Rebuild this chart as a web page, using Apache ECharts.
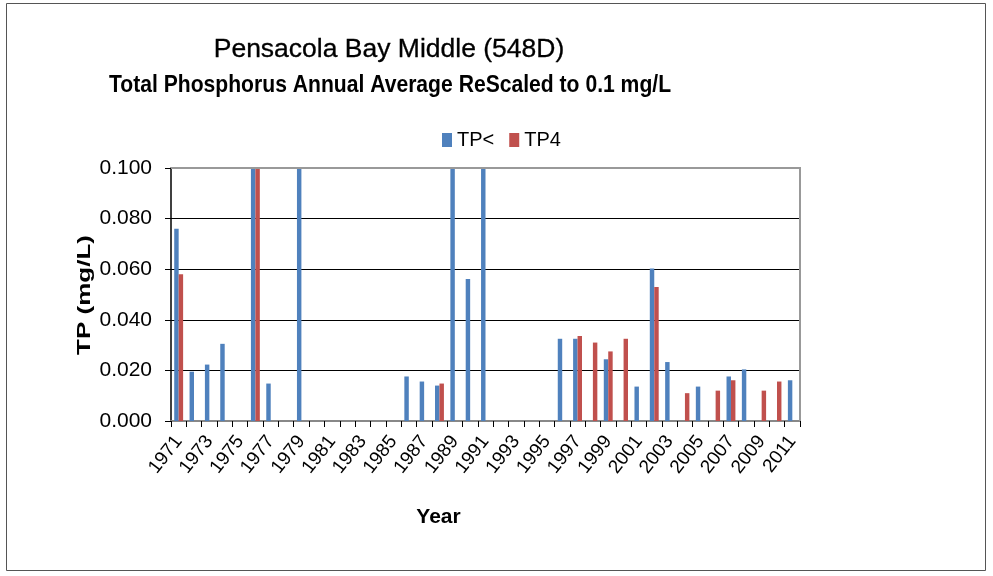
<!DOCTYPE html>
<html><head><meta charset="utf-8">
<script src="https://cdn.jsdelivr.net/npm/echarts@6/dist/echarts.min.js"></script>
<style>html,body{margin:0;padding:0;background:#fff}#c{width:993px;height:576px}</style>
</head><body><div id="c"></div>
<script>
const years = [];
for (let y = 1971; y <= 2011; y++) years.push(String(y));
// values (capped at 0.1 by the rescaled axis)
const tpLess = [0.076,0.0195,0.0223,0.0305,null,0.1,0.0148,null,0.1,null,
  null,null,null,null,null,0.0176,0.0156,0.014,0.1,0.0561,
  0.1,null,null,null,null,0.0325,0.0325,null,0.0244,null,
  0.0136,0.0603,0.0233,null,0.0136,null,0.0176,0.0204,null,null,0.0161];
const tp4 = [0.058,null,null,null,null,0.1,null,null,null,null,
  null,null,null,null,null,null,null,0.0148,null,null,
  null,null,null,null,null,null,0.0336,0.031,0.0275,0.0325,
  null,0.053,null,0.011,null,0.012,0.0161,null,0.012,0.0156,null];
const titleText = 'Pensacola Bay Middle (548D)';
const subtitleText = 'Total Phosphorus Annual Average ReScaled to 0.1 mg/L';
const yName = 'TP (mg/L)';

const chart = echarts.init(document.getElementById('c'));
const F = '"Liberation Sans",Arial,sans-serif';
chart.setOption({
  backgroundColor: '#fff',
  animation: false,
  legend: {
    top: 125, left: 437, itemWidth: 10, itemHeight: 14, itemGap: 15,
    icon: 'rect',
    textStyle: {fontFamily: F, fontSize: 20, color: '#000'},
    data: ['TP<', 'TP4']
  },
  graphic: [
    {type: 'rect', shape: {x: 6.5, y: 3.5, width: 979, height: 567},
     style: {fill: 'none', stroke: '#555', lineWidth: 1}, silent: true},
    {type: 'polyline', shape: {points: [[171,168],[800,168],[800,421]]},
     style: {stroke: '#999', lineWidth: 2, fill: 'none'}, silent: true, z: 10},
    {type: 'text', x: 389, y: 50, scaleX: 1.06, silent: true,
     style: {text: titleText, x: 0, y: 0, align: 'center', verticalAlign: 'middle',
       font: 'normal 25px ' + F, fill: '#000', stroke: '#000', lineWidth: 0.3}},
    {type: 'text', x: 390, y: 85, scaleX: 0.88, silent: true,
     style: {text: subtitleText, x: 0, y: 0, align: 'center', verticalAlign: 'middle',
       font: 'bold 24px ' + F, fill: '#000'}},
    {type: 'text', x: 85, y: 295, rotation: Math.PI / 2, scaleY: 0.68, silent: true,
     style: {text: yName, x: 0, y: 0, align: 'center', verticalAlign: 'middle',
       font: 'bold 26px ' + F, fill: '#000'}}
  ],
  grid: {left: 171, right: 193, top: 168, bottom: 155},
  xAxis: {
    type: 'category', data: years,
    name: 'Year', nameLocation: 'middle', nameGap: 86,
    nameTextStyle: {fontFamily: F, fontSize: 21, fontWeight: 'bold', color: '#000',
      padding: [0, 94, 0, 0]},
    axisLine: {lineStyle: {color: '#888', width: 2}},
    axisTick: {show: true, alignWithLabel: false, interval: 0, length: 6, lineStyle: {color: '#000'}},
    axisLabel: {interval: 1, rotate: 52, fontFamily: F, fontSize: 19, color: '#000', margin: 17}
  },
  yAxis: {
    type: 'value', min: 0, max: 0.1, interval: 0.02,
    axisLine: {show: true, lineStyle: {color: '#000', width: 1.5}},
    axisTick: {show: true, length: 6, lineStyle: {color: '#000'}},
    axisLabel: {fontFamily: F, fontSize: 21, color: '#000', margin: 19,
      formatter: v => v.toFixed(3)},
    splitLine: {show: true, lineStyle: {color: '#000', width: 1.2}}
  },
  series: [
    {name: 'TP<', type: 'bar', data: tpLess, barWidth: '29%', barGap: '0%',
     itemStyle: {color: '#4F81BD'}},
    {name: 'TP4', type: 'bar', data: tp4, barWidth: '29%', barGap: '0%',
     itemStyle: {color: '#C0504D'}}
  ]
});
</script></body></html>
